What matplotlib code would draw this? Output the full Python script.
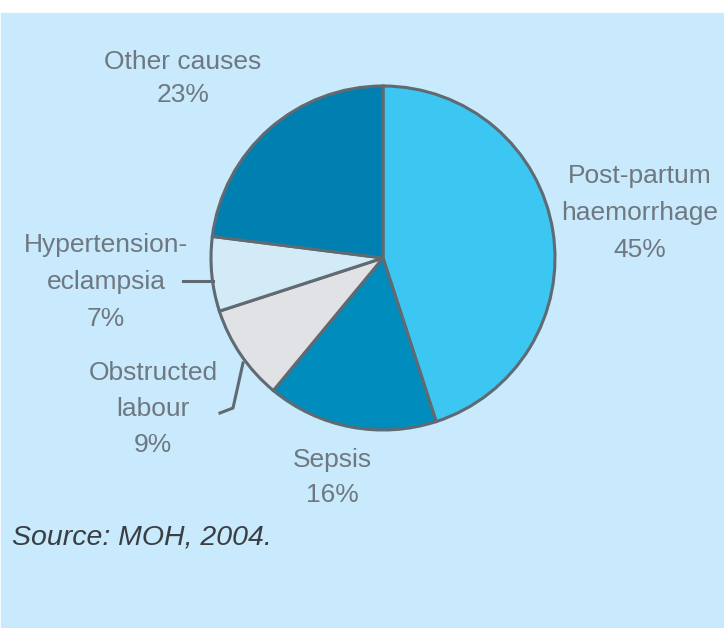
import matplotlib.pyplot as plt
from matplotlib.patches import Rectangle

# Causes of maternal death (clockwise from top)
causes = ['Post-partum\nhaemorrhage', 'Sepsis', 'Obstructed\nlabour',
          'Hypertension-\neclampsia', 'Other causes']
shares = [45, 16, 9, 7, 23]
colours = ['#3cc6f2', '#008cbc', '#e0e2e6', '#d2ebf7', '#0080b0']
source = 'Source: MOH, 2004.'

W, H = 724, 628
fig = plt.figure(figsize=(W / 100, H / 100), dpi=100, facecolor='white')
ax = fig.add_axes([0, 0, 1, 1])
ax.set_xlim(0, W)
ax.set_ylim(0, H)
ax.set_aspect('equal')
ax.axis('off')

# light blue panel
ax.add_patch(Rectangle((1, 0), W - 1, H - 13, color='#c8eafc', zorder=0))

cx, cy, r = 383, H - 258, 172
ax.pie(shares, colors=colours, startangle=90, counterclock=False,
       center=(cx, cy), radius=r, frame=True,
       wedgeprops=dict(edgecolor='#5f6a72', linewidth=2.2))
ax.set_xlim(0, W)
ax.set_ylim(0, H)
ax.axis('off')

# label positions (pixel from top)
label_pos = [(640, 176), (332, 460), (153, 373), (106, 245), (183, 62)]
line_gap = [37, 35, 36, 37, 33]
txt_col = '#6f7880'
for cause, share, (x, y), gap in zip(causes, shares, label_pos, line_gap):
    lines = cause.split('\n') + ['%d%%' % share]
    for i, s in enumerate(lines):
        ax.text(x, H - (y + i * gap), s, ha='center', va='center',
                fontsize=19, color=txt_col, family='Liberation Sans')

# leader lines
ax.plot([183, 213], [H - 281, H - 281], color='#5f6a72', lw=2.2)
ax.plot([243, 233, 220], [H - 363, H - 408, H - 413], color='#5f6a72', lw=2.2)

ax.text(12, H - 538, source, ha='left', va='center', fontsize=20.5,
        style='italic', color='#3a3f44', family='Liberation Sans')

fig.savefig('out.png', dpi=100, facecolor='white')
